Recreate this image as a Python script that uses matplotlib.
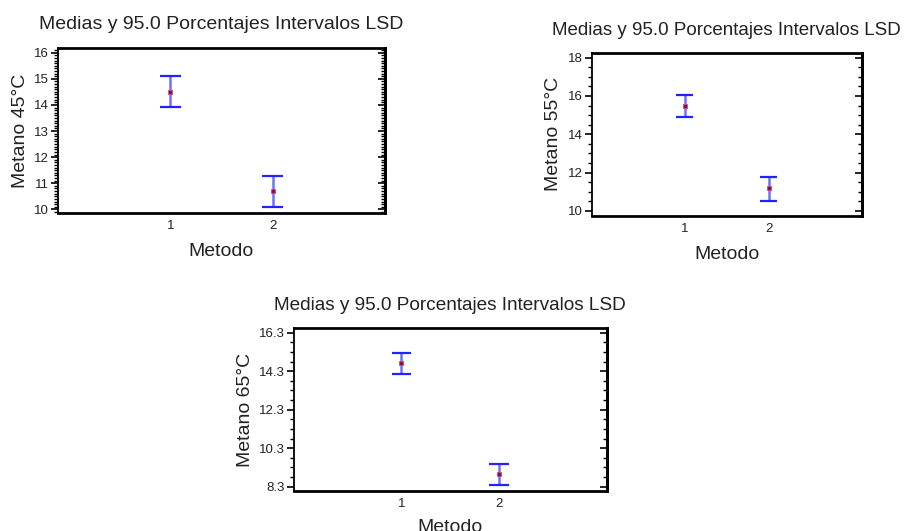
import matplotlib
matplotlib.use("Agg")
import matplotlib.pyplot as plt
import numpy as np
from matplotlib.ticker import FixedLocator

plt.rcParams['font.family'] = ['Liberation Sans', 'DejaVu Sans']

title = "Medias y 95.0 Porcentajes Intervalos LSD"
metodos = [1, 2]
xlabel = "Metodo"

ylabel_45 = "Metano 45°C"
mean_45 = [14.49, 10.71]
low_45 = [13.93, 10.10]
high_45 = [15.12, 11.29]

ylabel_55 = "Metano 55°C"
mean_55 = [15.48, 11.19]
low_55 = [14.89, 10.52]
high_55 = [16.07, 11.79]

ylabel_65 = "Metano 65°C"
mean_65 = [14.73, 8.96]
low_65 = [14.14, 8.39]
high_65 = [15.27, 9.49]

fig = plt.figure(figsize=(9.06, 5.31), dpi=100)

specs = [
    dict(rect=[58/906, 1-213/531, 327/906, 165/531], ylabel=ylabel_45,
         mean=mean_45, low=low_45, high=high_45, ylim=(9.86, 16.18),
         major=[10, 11, 12, 13, 14, 15, 16], minor=0.1, fmt="{:.0f}",
         tsize=14, tpad=14, xpad=8),
    dict(rect=[591.7/906, 1-215.7/531, 270/906, 163/531], ylabel=ylabel_55,
         mean=mean_55, low=low_55, high=high_55, ylim=(9.75, 18.26),
         major=[10, 12, 14, 16, 18], minor=0.5, fmt="{:.0f}",
         tsize=13.5, tpad=13, xpad=8),
    dict(rect=[294/906, 1-490.7/531, 312.7/906, 162.4/531], ylabel=ylabel_65,
         mean=mean_65, low=low_65, high=high_65, ylim=(8.09, 16.53),
         major=[8.3, 10.3, 12.3, 14.3, 16.3], minor=0.5, fmt="{:.1f}",
         tsize=13.7, tpad=13, xpad=7),
]

for s in specs:
    ax = fig.add_axes(s['rect'])
    m = np.array(s['mean']); lo = np.array(s['low']); hi = np.array(s['high'])
    x = np.array(metodos)
    ax.vlines(x, lo, hi, color='#7070ff', lw=1.8, zorder=2)
    ax.hlines(lo, x - 0.1, x + 0.1, color='#2222ff', lw=1.6, zorder=3)
    ax.hlines(hi, x - 0.1, x + 0.1, color='#2222ff', lw=1.6, zorder=3)
    ax.plot(x, m, 's', color='#8b0a50', ms=2.5, mec='#c05080', mew=0.6, zorder=4)
    ax.set_xlim(-0.1, 3.1)
    ax.set_ylim(*s['ylim'])
    ax.set_xticks(metodos)
    ax.set_xticklabels([str(v) for v in metodos])
    ax.tick_params(axis='x', length=0, labelsize=9.5, pad=5, colors='#222222')
    ax.set_yticks(s['major'])
    ax.set_yticklabels([s['fmt'].format(v) for v in s['major']])
    lo_l, hi_l = s['ylim']
    start = s['major'][0]
    step = s['minor']
    k0 = int(np.ceil((lo_l - start) / step - 1e-9))
    k1 = int(np.floor((hi_l - start) / step + 1e-9))
    minors = [start + k * step for k in range(k0, k1 + 1)]
    ax.yaxis.set_minor_locator(FixedLocator(minors))
    ax.tick_params(axis='y', which='major', direction='out', length=5, width=1.2,
                   labelsize=9.5, pad=1.5, colors='black', labelcolor='#222222')
    ax.tick_params(axis='y', which='minor', direction='out', length=3, width=1.0)
    sec = ax.secondary_yaxis('right')
    sec.set_yticks(s['major'])
    sec.yaxis.set_minor_locator(FixedLocator(minors))
    sec.tick_params(axis='y', which='major', direction='in', length=5, width=1.2, labelright=False)
    sec.tick_params(axis='y', which='minor', direction='in', length=3, width=1.0)
    sec.spines['right'].set_linewidth(2)
    for sp in ['top', 'bottom', 'right']:
        ax.spines[sp].set_linewidth(2)
    ax.spines['left'].set_linewidth(1.3)
    ax.set_title(title, fontsize=s['tsize'], pad=s['tpad'], color='#222222')
    ax.set_ylabel(s['ylabel'], fontsize=14, labelpad=4, color='#222222')
    ax.set_xlabel(xlabel, fontsize=14, labelpad=s['xpad'], color='#222222')

fig.savefig("out.png", dpi=100)
